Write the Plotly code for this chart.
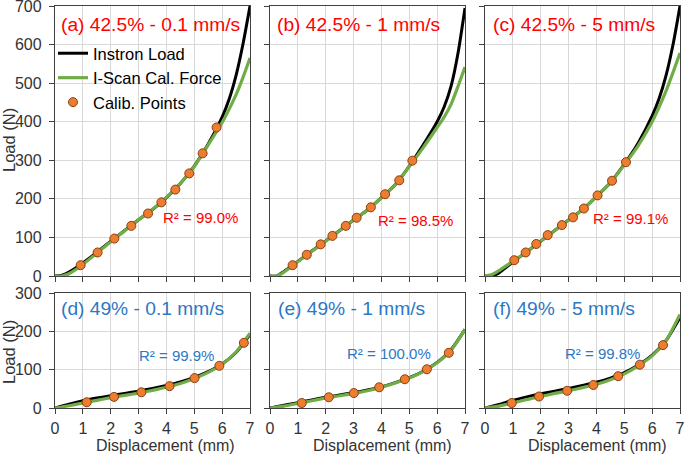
import plotly.graph_objects as go

# ---------------- data ----------------
X_CURVE = [0, 0.25, 0.5, 1, 1.5, 2, 2.5, 3, 3.5, 4, 4.5, 5, 5.5, 6, 6.25, 6.5, 6.75, 7]
X_CURVE_49 = [0, 0.5, 1, 1.5, 2, 2.5, 3, 3.5, 4, 4.5, 5, 5.5, 6, 6.5, 7]

# (a) 42.5% - 0.1 mm/s
a_instron = [0, 2, 10, 34, 61, 90, 118, 146, 172, 203, 240, 285, 342, 412, 458, 520, 602, 700]
a_iscan = [0, 0, 6, 30, 59, 89, 117, 146, 173, 204, 240, 284, 340, 398, 432, 470, 515, 565]
a_pts_x = [0.92, 1.53, 2.13, 2.74, 3.34, 3.82, 4.32, 4.82, 5.30, 5.80]
a_pts_y = [28, 61, 97, 130, 162, 191, 224, 266, 318, 385]

# (b) 42.5% - 1 mm/s
b_instron = [0, 0, 12, 38, 65, 91, 118, 145, 171, 203, 237, 285, 340, 400, 438, 492, 578, 695]
b_iscan = [0, 0, 10, 37, 64, 90, 118, 145, 171, 203, 237, 284, 333, 385, 412, 445, 492, 542]
b_pts_x = [0.81, 1.32, 1.82, 2.24, 2.72, 3.11, 3.62, 4.13, 4.64, 5.11]
b_pts_y = [28, 55, 82, 104, 130, 151, 178, 212, 248, 299]

# (c) 42.5% - 5 mm/s
c_instron = [0, 0, 8, 36, 63, 90, 118, 145, 172, 206, 242, 290, 345, 415, 460, 520, 600, 700]
c_iscan = [0, 4, 14, 38, 63, 90, 118, 145, 172, 206, 242, 288, 338, 400, 438, 480, 528, 578]
c_pts_x = [1.05, 1.46, 1.84, 2.25, 2.76, 3.16, 3.55, 4.04, 4.56, 5.06]
c_pts_y = [41, 61, 83, 106, 132, 152, 175, 209, 247, 295]

# (d) 49% - 0.1 mm/s
d_instron = [0, 10, 19, 26, 32, 38, 44, 51, 59, 68, 80, 95, 115, 145, 192]
d_iscan = [0, 6, 13, 20, 27, 33, 39, 46, 54, 64, 77, 93, 114, 146, 195]
d_pts_x = [1.14, 2.12, 3.10, 4.11, 5.01, 5.90, 6.78]
d_pts_y = [15, 29, 41, 57, 78, 110, 170]

# (e) 49% - 1 mm/s
e_instron = [0, 7, 14, 21, 28, 34, 40, 47, 55, 66, 79, 96, 119, 152, 205]
e_iscan = [0, 5, 12, 19, 26, 32, 38, 45, 54, 65, 78, 95, 118, 151, 205]
e_pts_x = [1.14, 2.11, 3.01, 3.92, 4.84, 5.63, 6.42]
e_pts_y = [13, 28, 39, 54, 75, 101, 144]

# (f) 49% - 5 mm/s
f_instron = [0, 9, 20, 29, 37, 44, 51, 59, 67, 78, 92, 112, 138, 176, 236]
f_iscan = [0, 5, 13, 22, 30, 38, 45, 53, 62, 74, 89, 110, 136, 176, 244]
f_pts_x = [0.96, 1.94, 2.95, 3.89, 4.78, 5.56, 6.39]
f_pts_y = [13, 30, 45, 60, 83, 113, 164]

PANEL_TITLES = ["(a) 42.5% - 0.1 mm/s", "(b) 42.5% - 1 mm/s", "(c) 42.5% - 5 mm/s",
                "(d) 49% - 0.1 mm/s", "(e) 49% - 1 mm/s", "(f) 49% - 5 mm/s"]
R2_LABELS = ["R² = 99.0%", "R² = 98.5%", "R² = 99.1%",
             "R² = 99.9%", "R² = 100.0%", "R² = 99.8%"]
X_TICKS = [0, 1, 2, 3, 4, 5, 6, 7]
Y_TICKS_TOP = [0, 100, 200, 300, 400, 500, 600, 700]
Y_TICKS_BOT = [0, 100, 200, 300]
SERIES_NAMES = ["Instron Load", "I-Scan Cal. Force", "Calib. Points"]

# ---------------- styling / layout ----------------
W, H = 685, 455
L, R, T, B = 55, 5, 6, 47
PW = W - L - R
PH = H - T - B
FONT = "Liberation Sans, Arial, sans-serif"
RED = "#FF0000"
BLUE = "#2A78C6"
GREEN = "#70AD47"
ORANGE = "#ED7D31"
AXC = "#404040"
GRID = "#D9D9D9"


def px_x(p):
    return (p - L) / PW


def px_y(p):
    return (H - B - p) / PH


xdoms = [[px_x(55), px_x(250)], [px_x(270), px_x(465)], [px_x(485), px_x(680)]]
ydom_top = [px_y(276), px_y(6)]
ydom_bot = [px_y(408), px_y(293)]

panels = [
    (X_CURVE, a_instron, a_iscan, a_pts_x, a_pts_y),
    (X_CURVE, b_instron, b_iscan, b_pts_x, b_pts_y),
    (X_CURVE, c_instron, c_iscan, c_pts_x, c_pts_y),
    (X_CURVE_49, d_instron, d_iscan, d_pts_x, d_pts_y),
    (X_CURVE_49, e_instron, e_iscan, e_pts_x, e_pts_y),
    (X_CURVE_49, f_instron, f_iscan, f_pts_x, f_pts_y),
]

fig = go.Figure()
layout = dict(
    width=W, height=H,
    margin=dict(l=L, r=R, t=T, b=B, autoexpand=False),
    paper_bgcolor="white", plot_bgcolor="white",
    font=dict(family=FONT, color=AXC),
    showlegend=True,
)

for i, (xc, inst, iscan, px_, py_) in enumerate(panels):
    n = i + 1
    xa = "x" if n == 1 else f"x{n}"
    ya = "y" if n == 1 else f"y{n}"
    top = i < 3
    first = i == 0
    fig.add_trace(go.Scatter(x=xc, y=inst, mode="lines", line=dict(color="black", width=3, shape="spline", smoothing=0.6),
                             name=SERIES_NAMES[0], showlegend=first, legendgroup="g1", xaxis=xa, yaxis=ya))
    fig.add_trace(go.Scatter(x=xc, y=iscan, mode="lines", line=dict(color=GREEN, width=3.2, shape="spline", smoothing=0.6),
                             name=SERIES_NAMES[1], showlegend=first, legendgroup="g2", xaxis=xa, yaxis=ya))
    fig.add_trace(go.Scatter(x=px_, y=py_, mode="markers",
                             marker=dict(color=ORANGE, size=9, line=dict(color="#8B3E0F", width=1)),
                             name=SERIES_NAMES[2], showlegend=first, legendgroup="g3", xaxis=xa, yaxis=ya))

    axis_common = dict(showgrid=True, gridcolor=GRID, gridwidth=1, zeroline=False,
                       showline=True, mirror=True, linecolor=AXC, linewidth=1.3,
                       ticks="outside", ticklen=5, tickcolor=AXC, tickwidth=1, automargin=False,
                       ticklabeloverflow="allow",
                       tickfont=dict(family=FONT, size=16, color="#333333"))
    xkey = "xaxis" if n == 1 else f"xaxis{n}"
    ykey = "yaxis" if n == 1 else f"yaxis{n}"
    layout[xkey] = dict(axis_common, domain=xdoms[i % 3], range=[0, 7], tickvals=X_TICKS,
                        showticklabels=not top, anchor=ya, ticklabelstandoff=1)
    layout[ykey] = dict(axis_common, domain=ydom_top if top else ydom_bot,
                        range=[0, 700] if top else [0, 300],
                        tickvals=Y_TICKS_TOP if top else Y_TICKS_BOT,
                        showticklabels=(i % 3 == 0), anchor=xa, ticklabelstandoff=4)

annotations = []
title_pos = [(59, 25), (275, 25), (491, 25), (59, 308), (276, 308), (491, 308)]
r2_pos = [(200, 217), (415, 220), (630, 218), (176, 355), (389, 353), (602, 353)]
for i in range(6):
    col = RED if i < 3 else BLUE
    tx, ty = title_pos[i]
    annotations.append(dict(text=PANEL_TITLES[i], x=px_x(tx), y=px_y(ty), xref="paper", yref="paper",
                            xanchor="left", yanchor="middle", showarrow=False,
                            font=dict(family=FONT, size=19.2, color=col)))
    rx, ry = r2_pos[i]
    annotations.append(dict(text=R2_LABELS[i], x=px_x(rx), y=px_y(ry), xref="paper", yref="paper",
                            xanchor="center", yanchor="middle", showarrow=False,
                            font=dict(family=FONT, size=15, color=col)))

# axis titles
for cx in [165, 382, 597]:
    annotations.append(dict(text="Displacement (mm)", x=px_x(cx), y=px_y(445), xref="paper", yref="paper",
                            xanchor="center", yanchor="middle", showarrow=False,
                            font=dict(family=FONT, size=16, color="#333333")))
for cy in [140, 352]:
    annotations.append(dict(text="Load (N)", x=px_x(9), y=px_y(cy), xref="paper", yref="paper",
                            xanchor="center", yanchor="middle", showarrow=False, textangle=-90,
                            font=dict(family=FONT, size=16.5, color="#333333")))

layout["annotations"] = annotations
layout["legend"] = dict(x=px_x(53), y=px_y(36), xanchor="left", yanchor="top",
                        bgcolor="rgba(0,0,0,0)", borderwidth=0,
                        font=dict(family=FONT, size=16.5, color="black"),
                        tracegroupgap=0, itemwidth=30)

fig.update_layout(**layout)
fig.write_html("out.html", config={"displayModeBar": False},
               post_script="document.body.style.margin='0';document.body.style.overflow='hidden';")
